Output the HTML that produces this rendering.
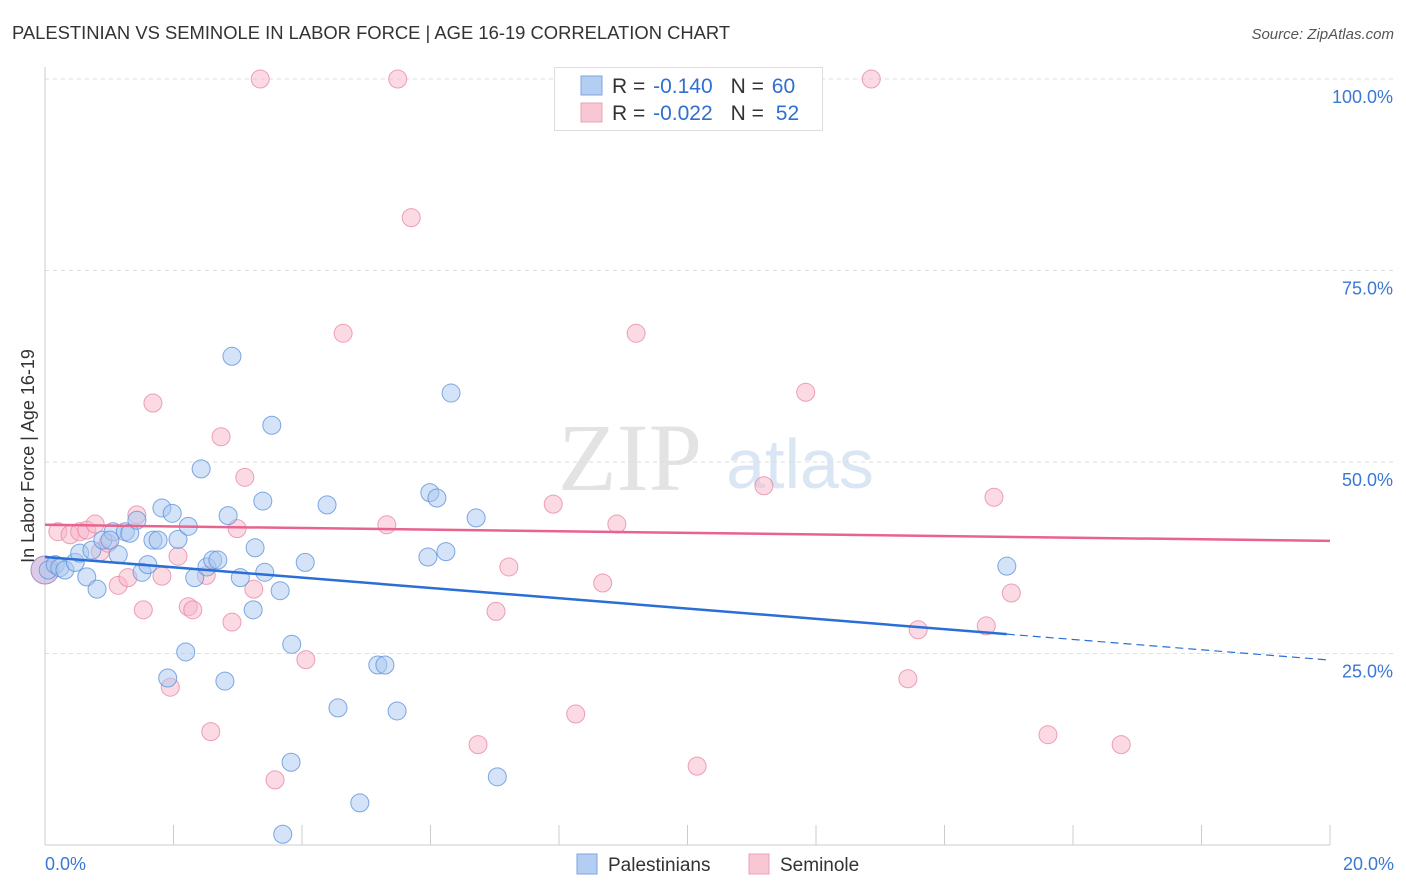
<!DOCTYPE html>
<html><head><meta charset="utf-8"><style>
body{margin:0;background:#fff;font-family:"Liberation Sans",sans-serif;}
#wrap{position:relative;width:1406px;height:892px;overflow:hidden;}
</style></head><body>
<div id="wrap">
<svg id="svg" width="1406" height="892" xmlns="http://www.w3.org/2000/svg">
<text x="12" y="39" font-size="18.4" fill="#333">PALESTINIAN VS SEMINOLE IN LABOR FORCE | AGE 16-19 CORRELATION CHART</text>
<text x="1394" y="39" font-size="15" fill="#555" font-style="italic" text-anchor="end">Source: ZipAtlas.com</text>
<text x="630" y="490" font-size="96" fill="#e3e3e3" font-family="Liberation Serif,serif" text-anchor="middle">ZIP</text>
<text x="800" y="488" font-size="70" fill="#dbe6f5" text-anchor="middle">atlas</text>
<text transform="translate(34,456) rotate(-90)" font-size="18" fill="#333" text-anchor="middle">In Labor Force | Age 16-19</text>
<g id="grid"></g><g id="pts"></g><g id="lines"></g>
<g>
<rect x="554.5" y="67.5" width="268" height="63" fill="#fff" stroke="#ddd"/>
<rect x="581" y="76" width="21" height="19" fill="#b4cdf2" stroke="#7ea6e0"/>
<rect x="581" y="103" width="21" height="19" fill="#f9c6d4" stroke="#eda0b8"/>
<text x="612" y="93" font-size="21" fill="#333"><tspan>R = </tspan><tspan fill="#2f6fd0" dx="2">-0.140</tspan><tspan dx="18">N = </tspan><tspan fill="#2f6fd0" dx="2">60</tspan></text>
<text x="612" y="120" font-size="21" fill="#333"><tspan>R = </tspan><tspan fill="#2f6fd0" dx="2">-0.022</tspan><tspan dx="18">N = </tspan><tspan fill="#2f6fd0" dx="6">52</tspan></text>
</g>
<g>
<rect x="577" y="854" width="20" height="20" fill="#b4cdf2" stroke="#7ea6e0"/>
<text x="608" y="871" font-size="19" fill="#333">Palestinians</text>
<rect x="749" y="854" width="20" height="20" fill="#f9c6d4" stroke="#eda0b8"/>
<text x="780" y="871" font-size="19" fill="#333">Seminole</text>
</g>
<text x="45" y="870" font-size="18" fill="#3a78d4">0.0%</text>
<text x="1394" y="870" font-size="18" fill="#3a78d4" text-anchor="end">20.0%</text>
</svg>
</div>
<script>
const yTicks=[100,75,50,25];
const yTickLabels=["100.0%","75.0%","50.0%","25.0%"];
const xTicks=[0,2,4,6,8,10,12,14,16,18,20];
const blueX=[0.05,0.16,0.23,0.31,0.47,0.54,0.65,0.73,0.81,0.90,1.06,1.14,1.25,1.32,1.43,1.51,1.60,1.68,1.76,1.82,1.98,2.07,2.23,2.33,2.43,2.19,1.91,2.52,2.61,2.69,2.80,2.85,2.91,3.04,3.24,3.27,3.39,3.42,3.53,3.66,3.84,3.83,3.70,4.05,4.39,4.56,4.90,5.18,5.29,5.48,5.96,5.99,6.10,6.24,6.32,6.71,7.04,14.97,1.01];
const blueY=[35.9,36.6,36.2,35.9,36.9,38.1,35.0,38.5,33.4,39.8,40.9,37.9,40.9,40.7,42.4,35.6,36.6,39.8,39.8,44.0,43.3,39.9,41.6,34.9,49.1,25.2,21.8,36.3,37.2,37.2,21.4,43.0,63.8,34.9,30.7,38.8,44.9,35.6,54.8,33.2,26.2,10.8,1.4,36.9,44.4,17.9,5.5,23.5,23.5,17.5,37.6,46.0,45.3,38.3,59.0,42.7,8.9,36.4,39.8];
const pinkX=[0.20,0.39,0.54,0.65,0.78,0.86,0.98,1.14,1.29,1.43,1.53,1.68,1.82,1.95,2.07,2.23,2.30,2.51,2.58,2.74,2.91,2.99,3.11,3.25,3.35,3.58,4.06,4.64,5.32,5.49,5.70,6.74,7.02,7.22,7.91,8.26,8.68,8.90,9.20,10.15,11.19,11.84,12.86,13.43,13.59,14.65,14.77,15.04,15.61,16.75];
const pinkY=[40.9,40.5,40.9,41.1,41.9,38.3,39.4,33.9,34.9,43.1,30.7,57.7,35.1,20.6,37.7,31.1,30.7,35.2,14.8,53.3,29.1,41.3,48.0,33.4,100,8.5,24.2,66.8,41.8,100,81.9,13.1,30.5,36.3,44.5,17.1,34.2,41.9,66.8,10.3,46.9,59.1,100,21.7,28.1,28.6,45.4,32.9,14.4,13.1];
const blueTrend=[37.6,-0.673];
const pinkTrend=[41.8,-0.105];
const NS="http://www.w3.org/2000/svg";
const xs=v=>45+v*64.25, ys=v=>845-v*7.66;
function mk(t,a,p){const e=document.createElementNS(NS,t);for(const k in a)e.setAttribute(k,a[k]);p.appendChild(e);return e;}
const grid=document.getElementById('grid');
yTicks.forEach((t,i)=>{
 const l=mk('line',{x1:45,x2:1394,y1:ys(t),y2:ys(t),stroke:'#ddd','stroke-dasharray':'4,4'},grid);
 
 
 const tx=mk('text',{x:1393,y:ys(t)+24,'font-size':18,fill:'#3a78d4','text-anchor':'end'},grid);
 tx.textContent=yTickLabels[i];
 
 
});
mk('line',{x1:45,x2:45,y1:67,y2:845,stroke:'#ccc'},grid);
mk('line',{x1:45,x2:1330,y1:845,y2:845,stroke:'#ccc'},grid);
xTicks.forEach(t=>{const l=mk('line',{x1:xs(t),x2:xs(t),y1:825,y2:845,stroke:'#ccc'},grid);
 
 });
const pts=document.getElementById('pts');
function dots(X,Y,fill,stroke,name){X.forEach((x,i)=>{const c=mk('circle',{cx:xs(x),cy:ys(Y[i]),r:9,fill:fill,'fill-opacity':0.5,stroke:stroke,'stroke-opacity':0.8,'stroke-width':1},pts);
 
 });}
const big=mk('circle',{cx:xs(0),cy:ys(35.9),r:14,fill:'#c4a9d6','fill-opacity':0.6,stroke:'#a890c8'},pts);


dots(pinkX,pinkY,'#f7b6c9','#e98aa7','seminole-point');
dots(blueX,blueY,'#a9c7f0','#5f93dc','palestinian-point');
const lines=document.getElementById('lines');
const b0=blueTrend[0],b1=blueTrend[1];
let l1=mk('line',{x1:xs(0),y1:ys(b0),x2:xs(14.97),y2:ys(b0+b1*14.97),stroke:'#2a6fd6','stroke-width':2.5},lines);


let l2=mk('line',{x1:xs(14.97),y1:ys(b0+b1*14.97),x2:xs(20),y2:ys(b0+b1*20),stroke:'#2a6fd6','stroke-width':1.2,'stroke-dasharray':'8,5'},lines);


let l3=mk('line',{x1:xs(0),y1:ys(pinkTrend[0]),x2:xs(20),y2:ys(pinkTrend[0]+pinkTrend[1]*20),stroke:'#e8648e','stroke-width':2.5},lines);


</script>
</body></html>
